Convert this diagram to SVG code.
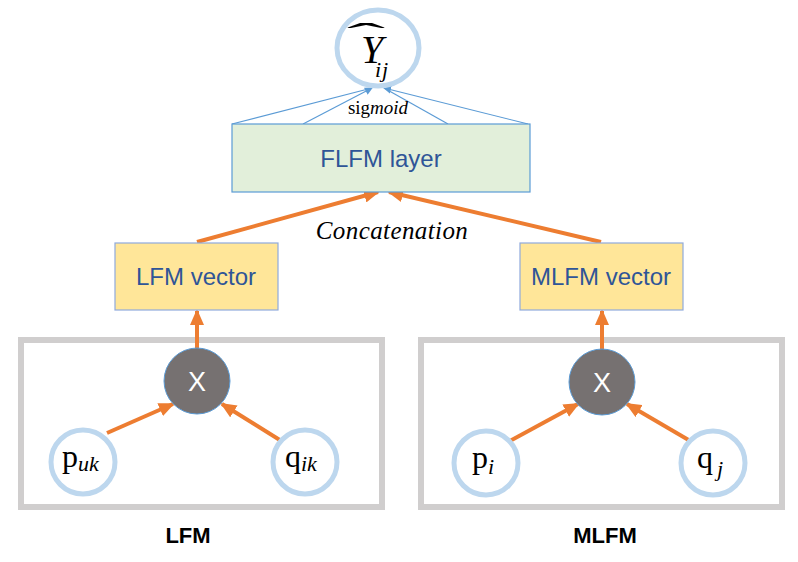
<svg xmlns="http://www.w3.org/2000/svg" width="798" height="562" viewBox="0 0 798 562">
<defs>
<marker id="oa" markerUnits="userSpaceOnUse" markerWidth="16" markerHeight="14" refX="14" refY="7" orient="auto"><path d="M0,0 L16,7 L0,14 Z" fill="#ED7D31"/></marker>
<marker id="ba" markerUnits="userSpaceOnUse" markerWidth="8" markerHeight="8" refX="7" refY="4" orient="auto"><path d="M0,0 L8,4 L0,8 Z" fill="#5B9BD5"/></marker>
<style>
.frame{fill:none;stroke:#D0CECE;stroke-width:6}
.vec{fill:#FFE699;stroke:#8FAADC;stroke-width:1.2}
.lbl{font-family:"Liberation Sans",Arial,sans-serif;font-size:24px;fill:#2F5597;text-anchor:middle}
.var{fill:#fff;stroke:#BDD7EE;stroke-width:5}
.mul{fill:#767171;stroke:#5B9BD5;stroke-width:1}
.x{font-family:"Liberation Sans",Arial,sans-serif;font-size:27px;fill:#fff;text-anchor:middle}
.m{font-family:"Liberation Serif","Times New Roman",serif;fill:#000}
.it{font-style:italic}
.oc{stroke:#ED7D31;stroke-width:4;fill:none;marker-end:url(#oa)}
.bc{stroke:#5B9BD5;stroke-width:1.2;fill:none}
.cap{font-family:"Liberation Sans",Arial,sans-serif;font-size:22px;font-weight:bold;fill:#000;text-anchor:middle}
</style>
</defs>
<rect width="798" height="562" fill="#fff"/>
<g id="frames">
<rect class="frame" x="21" y="340" width="361" height="167"/>
<rect class="frame" x="421" y="340" width="361" height="167"/>
</g>
<g id="connectors">
<line class="bc" x1="232" y1="124" x2="372" y2="88"/>
<line class="bc" x1="303" y1="124" x2="372" y2="88" marker-end="url(#ba)"/>
<line class="bc" x1="448" y1="124" x2="384" y2="88"/>
<line class="bc" x1="528" y1="124" x2="384" y2="88" marker-end="url(#ba)"/>
<line class="oc" x1="197" y1="242" x2="378" y2="192"/>
<line class="oc" x1="601" y1="242" x2="389" y2="192"/>
<line class="oc" x1="197" y1="349" x2="197" y2="311"/>
<line class="oc" x1="602" y1="350" x2="602" y2="311"/>
<line class="oc" x1="107" y1="433" x2="173" y2="404"/>
<line class="oc" x1="283" y1="442" x2="222" y2="404"/>
<line class="oc" x1="508" y1="442" x2="578" y2="404"/>
<line class="oc" x1="692" y1="442" x2="627" y2="404"/>
</g>
<g id="yhat">
<ellipse class="var" cx="378" cy="48" rx="41" ry="38"/>
<text class="m" x="366" y="47" font-size="34" text-anchor="middle" transform="translate(366 47) scale(3.4 1) translate(-366 -47)">ˆ</text>
<text class="m it" x="361" y="63" font-size="40">Y</text>
<text class="m it" x="375" y="77" font-size="22" letter-spacing="1">ij</text>
</g>
<text class="m" x="378" y="114" font-size="19" text-anchor="middle">sig<tspan class="it">moid</tspan></text>
<g id="flfm">
<rect x="232" y="124" width="298" height="68" fill="#E2EFDA" stroke="#5B9BD5" stroke-width="1.2"/>
<text class="lbl" x="381" y="167" font-size="23">FLFM layer</text>
</g>
<text class="m it" x="392" y="239" font-size="25" text-anchor="middle" letter-spacing="0.4">Concatenation</text>
<g id="lfm-vector">
<rect class="vec" x="115" y="243" width="163" height="67"/>
<text class="lbl" x="196" y="285">LFM vector</text>
</g>
<g id="mlfm-vector">
<rect class="vec" x="520" y="243" width="163" height="67"/>
<text class="lbl" x="601" y="285">MLFM vector</text>
</g>
<g id="lfm-x">
<circle class="mul" cx="197" cy="381" r="33"/>
<text class="x" x="197" y="391">X</text>
</g>
<g id="mlfm-x">
<circle class="mul" cx="602" cy="382" r="33"/>
<text class="x" x="602" y="392">X</text>
</g>
<g id="p-uk">
<circle class="var" cx="83" cy="462" r="32"/>
<text class="m" x="62" y="467" font-size="32">p<tspan class="it" font-size="22" dy="4">uk</tspan></text>
</g>
<g id="q-ik">
<circle class="var" cx="305" cy="462" r="32"/>
<text class="m" x="285" y="467" font-size="32">q<tspan class="it" font-size="22" dy="4">ik</tspan></text>
</g>
<g id="p-i">
<circle class="var" cx="486" cy="463" r="32"/>
<text class="m" x="472" y="468" font-size="32">p<tspan class="it" font-size="22" dy="6">i</tspan></text>
</g>
<g id="q-j">
<circle class="var" cx="713" cy="463" r="32"/>
<text class="m" x="697" y="468" font-size="32">q<tspan class="it" font-size="22" dx="4" dy="8">j</tspan></text>
</g>
<text class="cap" x="188" y="543">LFM</text>
<text class="cap" x="605" y="543">MLFM</text>
</svg>
